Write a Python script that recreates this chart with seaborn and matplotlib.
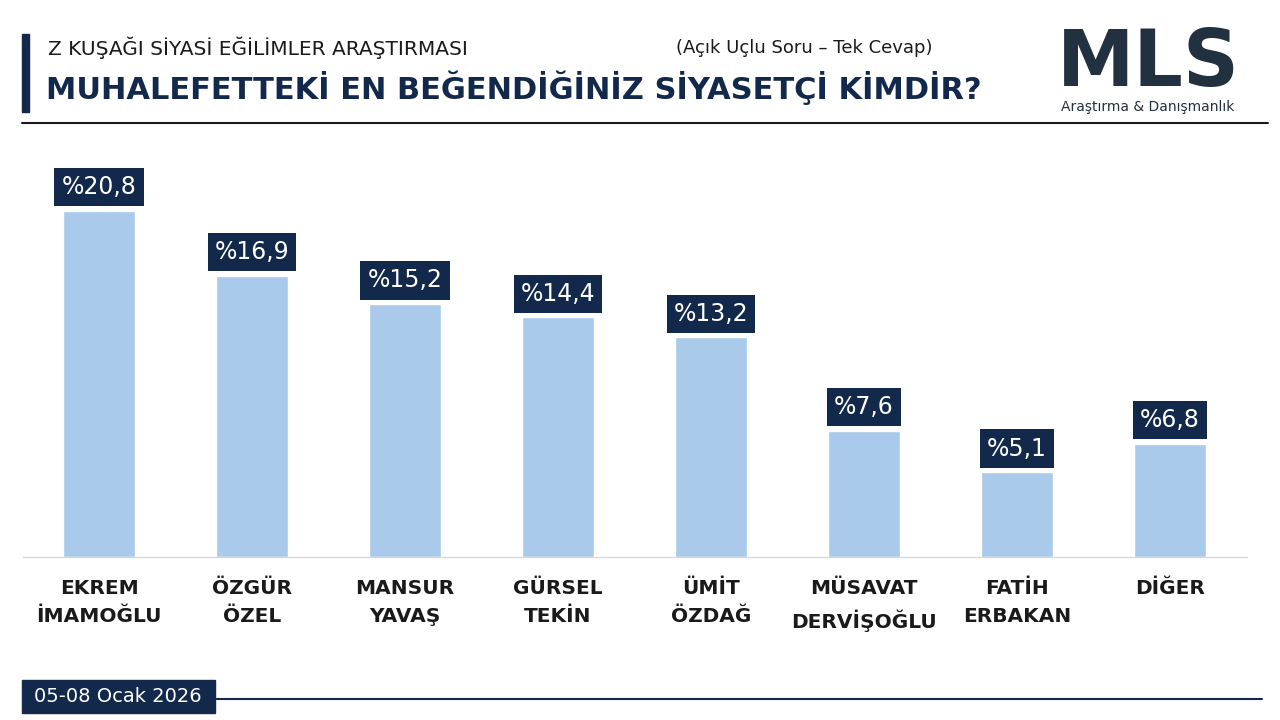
import matplotlib
matplotlib.use("Agg")
import matplotlib.pyplot as plt
import seaborn as sns
import pandas as pd

names = ["EKREM\nİMAMOĞLU", "ÖZGÜR\nÖZEL", "MANSUR\nYAVAŞ", "GÜRSEL\nTEKİN", "ÜMİT\nÖZDAĞ",
         "MÜSAVAT\nDERVİŞOĞLU", "FATİH\nERBAKAN", "DİĞER"]
values = [20.8, 16.9, 15.2, 14.4, 13.2, 7.6, 5.1, 6.8]
labels = ["%20,8", "%16,9", "%15,2", "%14,4", "%13,2", "%7,6", "%5,1", "%6,8"]

NAVY = "#13294b"
BAR = "#a9caeb"
sns.set_theme(style="white")
plt.rcParams["font.family"] = ["DejaVu Sans"]

W, H = 1280, 720
fig = plt.figure(figsize=(12.8, 7.2), dpi=100)
ax = fig.add_axes([22.5 / W, 1 - 557 / H, 1224 / W, 416 / H])
df = pd.DataFrame({"name": names, "value": values})
sns.barplot(data=df, x="name", y="value", color=BAR, width=0.47, ax=ax, saturation=1)
ax.set_ylim(0, 25)
ax.set_xlim(-0.5, 7.5)
ax.set_xlabel(""); ax.set_ylabel("")
ax.set_yticks([])
ax.set_xticks([])
for s in ["top", "right", "left"]:
    ax.spines[s].set_visible(False)
ax.spines["bottom"].set_color("#d9d9d9")
ax.spines["bottom"].set_linewidth(1)
for i, (v, l) in enumerate(zip(values, labels)):
    ax.annotate(l, (i, v), xytext=(0, 17), textcoords="offset points", ha="center", va="center",
                color="white", fontsize=17,
                bbox=dict(boxstyle="square,pad=0.3", fc=NAVY, ec="none"))
    ax.text(i, -1.3, names[i], ha="center", va="top", fontsize=14.5, fontweight="bold",
            color="#1a1a1a", linespacing=1.65)

# header
fig.patches.append(plt.Rectangle((22 / W, 1 - 112 / H), 7 / W, 78 / H, transform=fig.transFigure,
                                 color=NAVY))
fig.text(48 / W, 1 - 48 / H, "Z KUŞAĞI SİYASİ EĞİLİMLER ARAŞTIRMASI", fontsize=14.5,
         color="#1a1a1a", va="center")
fig.text(676 / W, 1 - 48 / H, "(Açık Uçlu Soru – Tek Cevap)", fontsize=13, color="#1a1a1a",
         va="center")
fig.text(46 / W, 1 - 88 / H, "MUHALEFETTEKİ EN BEĞENDİĞİNİZ SİYASETÇİ KİMDİR?", fontsize=22,
         fontweight="bold", color=NAVY, va="center")
fig.add_artist(plt.Line2D([22 / W, 1268 / W], [1 - 123 / H] * 2, color="#1a1a1a", lw=1.5))
fig.text(1148 / W, 1 - 64 / H, "MLS", fontsize=56, fontweight="bold", color="#22313f",
         ha="center", va="center")
fig.text(1148 / W, 1 - 107 / H, "Araştırma & Danışmanlık", fontsize=10, color="#22313f",
         ha="center", va="center")

# footer
fig.patches.append(plt.Rectangle((22 / W, 1 - 713 / H), 193 / W, 33 / H, transform=fig.transFigure,
                                 color=NAVY))
fig.text(118 / W, 1 - 696 / H, "05-08 Ocak 2026", fontsize=14, color="white", ha="center",
         va="center")
fig.add_artist(plt.Line2D([215 / W, 1262 / W], [1 - 699 / H] * 2, color=NAVY, lw=1.5))

fig.savefig("out.png", dpi=100)
